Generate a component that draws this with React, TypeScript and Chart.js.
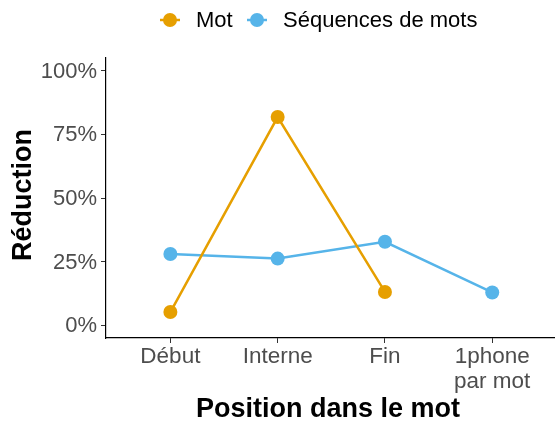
import React, { useEffect, useRef } from "react";
import { Chart, registerables } from "chart.js";

Chart.register(...registerables);

const categories: string[][] = [["Début"], ["Interne"], ["Fin"], ["1phone", "par mot"]];
const motValues: (number | null)[] = [5.2, 81.8, 13.1, null];
const seqValues: number[] = [28.0, 26.2, 32.8, 12.9];
const yTicks: number[] = [0, 25, 50, 75, 100];
const seriesNames: string[] = ["Mot", "Séquences de mots"];

const ORANGE = "#E69F00";
const BLUE = "#56B4E9";
const FONT = "'Liberation Sans', Arial, Helvetica, sans-serif";

export default function App() {
  const ref = useRef<HTMLCanvasElement | null>(null);

  useEffect(() => {
    const canvas = ref.current;
    if (!canvas) return;

    const overlay = {
      id: "overlay",
      afterDraw(chart: any) {
        const ctx = chart.ctx as CanvasRenderingContext2D;
        ctx.save();
        const items = [
          { name: seriesNames[0], color: ORANGE, cx: 170, tx: 196 },
          { name: seriesNames[1], color: BLUE, cx: 257, tx: 283 },
        ];
        const ly = 20;
        for (const it of items) {
          ctx.strokeStyle = it.color;
          ctx.lineWidth = 2.5;
          ctx.beginPath();
          ctx.moveTo(it.cx - 10, ly);
          ctx.lineTo(it.cx + 10, ly);
          ctx.stroke();
          ctx.fillStyle = it.color;
          ctx.beginPath();
          ctx.arc(it.cx, ly, 7, 0, Math.PI * 2);
          ctx.fill();
          ctx.fillStyle = "#000";
          ctx.font = `22px ${FONT}`;
          ctx.textAlign = "left";
          ctx.textBaseline = "middle";
          ctx.fillText(it.name, it.tx, ly + 1);
        }
        ctx.fillStyle = "#000";
        ctx.font = `bold 27px ${FONT}`;
        ctx.textAlign = "center";
        ctx.textBaseline = "alphabetic";
        ctx.fillText("Position dans le mot", 328, 417);
        ctx.translate(31, 195);
        ctx.rotate(-Math.PI / 2);
        ctx.textAlign = "center";
        ctx.textBaseline = "alphabetic";
        ctx.fillText("Réduction", 0, 0);
        ctx.restore();
      },
    };

    const chart = new Chart(canvas, {
      type: "line",
      data: {
        datasets: [
          {
            label: seriesNames[0],
            data: motValues.map((v, i) => ({ x: i + 1, y: v })),
            borderColor: ORANGE,
            backgroundColor: ORANGE,
            borderWidth: 2.5,
            pointRadius: 7,
            pointBorderWidth: 0,
            pointBackgroundColor: ORANGE,
            spanGaps: false,
            clip: false,
          },
          {
            label: seriesNames[1],
            data: seqValues.map((v, i) => ({ x: i + 1, y: v })),
            borderColor: BLUE,
            backgroundColor: BLUE,
            borderWidth: 2.5,
            pointRadius: 7,
            pointBorderWidth: 0,
            pointBackgroundColor: BLUE,
            clip: false,
          },
        ],
      },
      options: {
        responsive: false,
        animation: false,
        layout: { autoPadding: false, padding: { top: 58, right: 0, bottom: 0, left: 0 } },
        plugins: { legend: { display: false }, tooltip: { enabled: false } },
        scales: {
          x: {
            type: "linear",
            min: 0.4,
            max: 4.585,
            afterBuildTicks: (s: any) => {
              s.ticks = categories.map((_, i) => ({ value: i + 1 }));
            },
            afterFit: (s: any) => {
              s.height = 83;
              s.paddingLeft = 0;
              s.paddingRight = 0;
            },
            ticks: {
              callback: (v: any) => categories[Math.round(Number(v)) - 1] ?? "",
              color: "#4D4D4D",
              font: { family: FONT, size: 22.5, lineHeight: 1.12 },
              padding: 1,
              maxRotation: 0,
              autoSkip: false,
            },
            grid: { drawOnChartArea: false, drawTicks: true, tickLength: 5, color: "#333", lineWidth: 1 },
            border: { display: true, color: "#000", width: 1.2 },
          },
          y: {
            type: "linear",
            min: -5,
            max: 105,
            afterBuildTicks: (s: any) => {
              s.ticks = yTicks.map((v) => ({ value: v }));
            },
            afterFit: (s: any) => {
              s.width = 106;
              s.paddingTop = 0;
              s.paddingBottom = 0;
            },
            ticks: {
              callback: (v: any) => `${v}%`,
              color: "#4D4D4D",
              font: { family: FONT, size: 22 },
              padding: 4,
              labelOffset: 1,
            },
            grid: { drawOnChartArea: false, drawTicks: true, tickLength: 5, color: "#333", lineWidth: 1 },
            border: { display: true, color: "#000", width: 1.2 },
          },
        },
      },
      plugins: [overlay],
    } as any);

    return () => chart.destroy();
  }, []);

  return (
    <div style={{ position: "fixed", left: 0, top: 0, width: 555, height: 421, background: "#fff" }}>
      <canvas ref={ref} width={555} height={421} style={{ width: 555, height: 421, display: "block" }} />
    </div>
  );
}
